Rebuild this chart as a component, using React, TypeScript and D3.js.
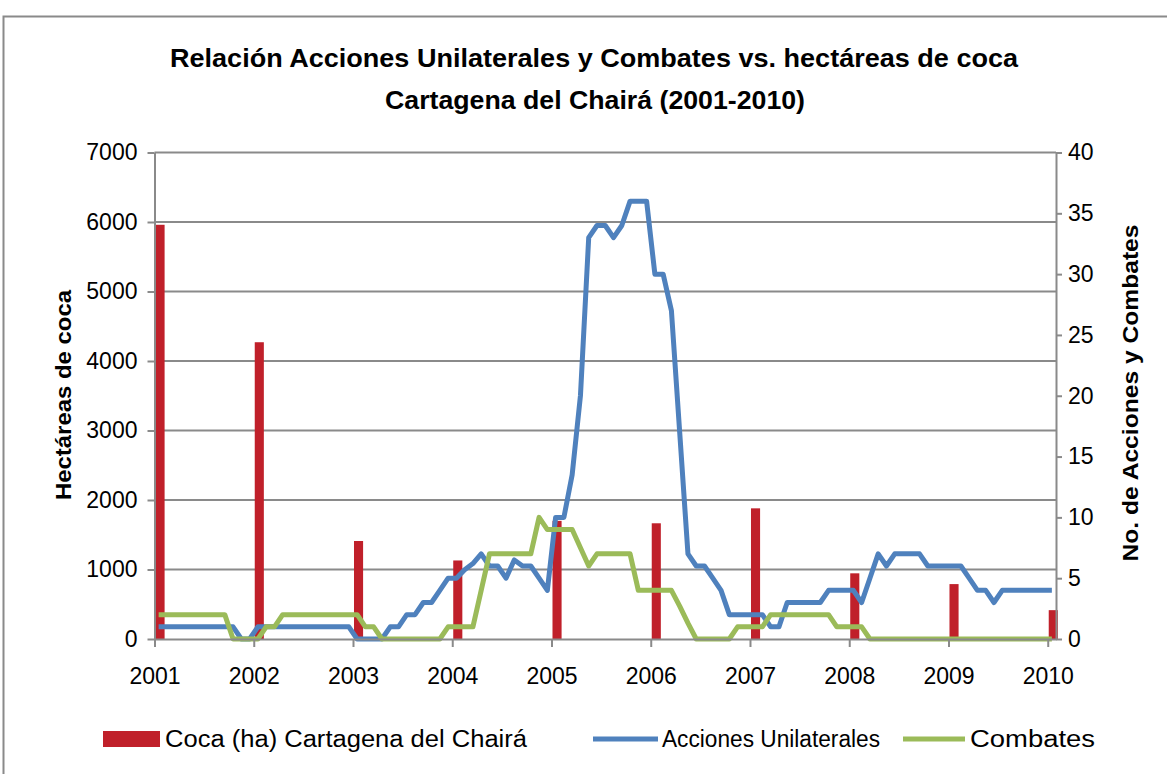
import React, { useEffect, useRef } from "react";
import * as d3 from "d3";

// Bars: hectares of coca, one per year (January of each year)
const years = ["2001", "2002", "2003", "2004", "2005", "2006", "2007", "2008", "2009", "2010"];
const cocaHa = [5960, 4270, 1410, 1130, 1700, 1665, 1880, 945, 790, 415];

// Monthly series, Jan 2001 .. Jan 2010
const acciones = [
  1, 1, 1, 1, 1, 1, 1, 1, 1, 1, 0, 0,
  1, 1, 1, 1, 1, 1, 1, 1, 1, 1, 1, 1,
  0, 0, 0, 0, 1, 1, 2, 2, 3, 3, 4, 5,
  5, 5.7, 6.2, 7, 6, 6, 5, 6.5, 6, 6, 5, 4,
  10, 10, 13.5, 20, 33, 34, 34, 33, 34, 36, 36, 36,
  30, 30, 27, 17, 7, 6, 6, 5, 4, 2, 2, 2,
  2, 2, 1, 1, 3, 3, 3, 3, 3, 4, 4, 4,
  4, 3, 5, 7, 6, 7, 7, 7, 7, 6, 6, 6,
  6, 6, 5, 4, 4, 3, 4, 4, 4, 4, 4, 4,
  4,
];
const combates = [
  2, 2, 2, 2, 2, 2, 2, 2, 2, 0, 0, 0,
  0, 1, 1, 2, 2, 2, 2, 2, 2, 2, 2, 2,
  2, 1, 1, 0, 0, 0, 0, 0, 0, 0, 0, 1,
  1, 1, 1, 4, 7, 7, 7, 7, 7, 7, 10, 9,
  9, 9, 9, 7.5, 6, 7, 7, 7, 7, 7, 4, 4,
  4, 4, 4, 2.7, 1.3, 0, 0, 0, 0, 0, 1, 1,
  1, 1, 2, 2, 2, 2, 2, 2, 2, 2, 1, 1,
  1, 1, 0, 0, 0, 0, 0, 0, 0, 0, 0, 0,
  0, 0, 0, 0, 0, 0, 0, 0, 0, 0, 0, 0,
  0,
];
const leftTicks = [0, 1000, 2000, 3000, 4000, 5000, 6000, 7000];
const rightTicks = [0, 5, 10, 15, 20, 25, 30, 35, 40];

const W = 1167;
const H = 774;

const App = () => {
  const ref = useRef<SVGSVGElement | null>(null);

  useEffect(() => {
    const svg = d3.select(ref.current);
    svg.selectAll("*").remove();

    const left = 154.5;
    const right = 1056;
    const top = 152.5;
    const bottom = 639;
    const grey = "#8a8a8a";
    const font = "'Liberation Sans', Arial, sans-serif";

    const n = acciones.length;
    const x = d3.scaleLinear().domain([0, n]).range([left, right]);
    const step = x(1) - x(0);
    const yL = d3.scaleLinear().domain([0, 7000]).range([bottom, top]);
    const yR = d3.scaleLinear().domain([0, 40]).range([bottom, top]);

    svg.append("rect").attr("width", W).attr("height", H).attr("fill", "#fff");
    svg
      .append("rect")
      .attr("x", 3.5)
      .attr("y", 16.5)
      .attr("width", W + 10)
      .attr("height", H + 10)
      .attr("fill", "none")
      .attr("stroke", grey)
      .attr("stroke-width", 2);

    // title
    const title = svg.append("g").attr("font-family", font).attr("font-weight", "bold").attr("font-size", 25).attr("fill", "#000");
    title
      .append("text")
      .attr("x", 170)
      .attr("y", 67)
      .attr("textLength", 848)
      .attr("lengthAdjust", "spacingAndGlyphs")
      .text("Relación Acciones Unilaterales y Combates vs. hectáreas de coca");
    title
      .append("text")
      .attr("x", 385)
      .attr("y", 109)
      .attr("textLength", 420)
      .attr("lengthAdjust", "spacingAndGlyphs")
      .text("Cartagena del Chairá  (2001-2010)");

    // gridlines
    svg
      .append("g")
      .selectAll("line")
      .data(leftTicks.slice(1))
      .join("line")
      .attr("x1", left)
      .attr("x2", right)
      .attr("y1", (d) => yL(d))
      .attr("y2", (d) => yL(d))
      .attr("stroke", grey)
      .attr("stroke-width", 2);

    // bars
    svg
      .append("g")
      .selectAll("rect")
      .data(cocaHa)
      .join("rect")
      .attr("x", (d, i) => x(i * 12) + 1)
      .attr("width", step * 1.1)
      .attr("y", (d) => yL(d))
      .attr("height", (d) => bottom - yL(d))
      .attr("fill", "#C0202A");

    const line = d3
      .line<number>()
      .x((d, i) => x(i + 0.5))
      .y((d) => yR(d));

    svg
      .append("path")
      .datum(acciones)
      .attr("d", line)
      .attr("fill", "none")
      .attr("stroke", "#4F81BD")
      .attr("stroke-width", 5)
      .attr("stroke-linejoin", "round");

    svg
      .append("path")
      .datum(combates)
      .attr("d", line)
      .attr("fill", "none")
      .attr("stroke", "#9BBB59")
      .attr("stroke-width", 5)
      .attr("stroke-linejoin", "round");

    // axes
    const styleAxis = (g: any) => {
      g.selectAll("path, line").attr("stroke", grey).attr("stroke-width", 2);
      g.selectAll("text").attr("font-family", font).attr("font-size", 23).attr("fill", "#000");
    };

    svg
      .append("g")
      .attr("transform", `translate(${left},0)`)
      .call(d3.axisLeft(yL).tickValues(leftTicks).tickFormat(d3.format("d")).tickSize(7).tickSizeOuter(0).tickPadding(10))
      .call(styleAxis);

    svg
      .append("g")
      .attr("transform", `translate(${right},0)`)
      .call(d3.axisRight(yR).tickValues(rightTicks).tickSize(6).tickSizeOuter(0).tickPadding(6))
      .call(styleAxis);

    svg
      .append("g")
      .attr("transform", `translate(0,${bottom})`)
      .call(
        d3
          .axisBottom(x)
          .tickValues(years.map((y, i) => i * 12))
          .tickFormat((d, i) => years[i])
          .tickSize(8)
          .tickSizeOuter(0)
          .tickPadding(21)
      )
      .call(styleAxis);

    // axis titles
    svg
      .append("text")
      .attr("transform", "translate(71,395) rotate(-90)")
      .attr("text-anchor", "middle")
      .attr("font-family", font)
      .attr("font-weight", "bold")
      .attr("font-size", 22)
      .attr("textLength", 210)
      .attr("lengthAdjust", "spacingAndGlyphs")
      .text("Hectáreas de coca");

    svg
      .append("text")
      .attr("transform", "translate(1138,393) rotate(-90)")
      .attr("text-anchor", "middle")
      .attr("font-family", font)
      .attr("font-weight", "bold")
      .attr("font-size", 22)
      .attr("textLength", 337)
      .attr("lengthAdjust", "spacingAndGlyphs")
      .text("No. de Acciones  y Combates");

    // legend
    const lg = svg.append("g").attr("font-family", font).attr("font-size", 23).attr("fill", "#000");
    lg.append("rect").attr("x", 103).attr("y", 731).attr("width", 57).attr("height", 16).attr("fill", "#C0202A");
    lg.append("text").attr("x", 165).attr("y", 747).attr("textLength", 362).attr("lengthAdjust", "spacingAndGlyphs").text("Coca (ha) Cartagena del Chairá");
    lg.append("line").attr("x1", 593).attr("x2", 658).attr("y1", 739).attr("y2", 739).attr("stroke", "#4F81BD").attr("stroke-width", 5);
    lg.append("text").attr("x", 662).attr("y", 747).attr("textLength", 218).attr("lengthAdjust", "spacingAndGlyphs").text("Acciones Unilaterales");
    lg.append("line").attr("x1", 903).attr("x2", 965).attr("y1", 739).attr("y2", 739).attr("stroke", "#9BBB59").attr("stroke-width", 5);
    lg.append("text").attr("x", 970).attr("y", 747).attr("textLength", 125).attr("lengthAdjust", "spacingAndGlyphs").text("Combates");
  }, []);

  return <svg ref={ref} width={W} height={H} style={{ position: "absolute", left: 0, top: 0, display: "block" }} />;
};

export default App;
